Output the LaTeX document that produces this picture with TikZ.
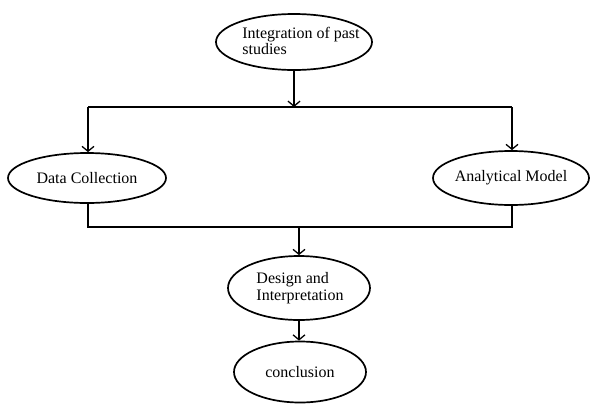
\documentclass[tikz,border=0pt]{standalone}
\usepackage{fontspec}
\setmainfont{Liberation Serif}
\usetikzlibrary{shapes.geometric,arrows.meta}
\begin{document}
\begin{tikzpicture}[x=1pt,y=-1pt,
  oval/.style={draw,ellipse,line width=1.7pt,inner sep=0pt},
  txt/.style={inner sep=0pt,font=\fontsize{16}{16.5}\selectfont,align=left},
  link/.style={line width=1.7pt},
  arr/.style={link,-{Straight Barb[length=5pt,width=12pt,line width=1.3pt]}}]
\useasboundingbox[fill=white] (0,0) rectangle (590,408);
\node[oval,minimum width=156pt,minimum height=56pt] (ip) at (294,42) {};
\node[oval,minimum width=158pt,minimum height=50pt] (dc) at (87,178) {};
\node[oval,minimum width=156pt,minimum height=54pt] (am) at (511,178) {};
\node[oval,minimum width=142pt,minimum height=64pt] (di) at (299,288) {};
\node[oval,minimum width=132pt,minimum height=61pt] (cc) at (300,372) {};
\node[txt] (ipt) at (301,41) {Integration of past\\studies};
\node[txt] (dct) at (dc) {Data Collection};
\node[txt] (amt) at (am) {Analytical Model};
\node[txt] (dit) at (300,288) {Design and\\Interpretation};
\node[txt] (cct) at (cc) {conclusion};
\coordinate (l1) at (88,107);
\coordinate (r1) at (512,107);
\coordinate (l2) at (88,227);
\coordinate (r2) at (512,227);
\draw[link] (l1) -- (r1);
\draw[arr] (ip.south) -- (ip.south |- l1);
\draw[arr] (l1) -- (l1 |- dc.north);
\draw[arr] (r1) -- (r1 |- am.north);
\draw[link] (l2 |- dc.south) -- (l2) -- (r2) -- (r2 |- am.south);
\draw[arr] (l2 -| di.north) -- (di.north);
\draw[arr] (di.south) -- (di.south |- cc.north);
\end{tikzpicture}
\end{document}
